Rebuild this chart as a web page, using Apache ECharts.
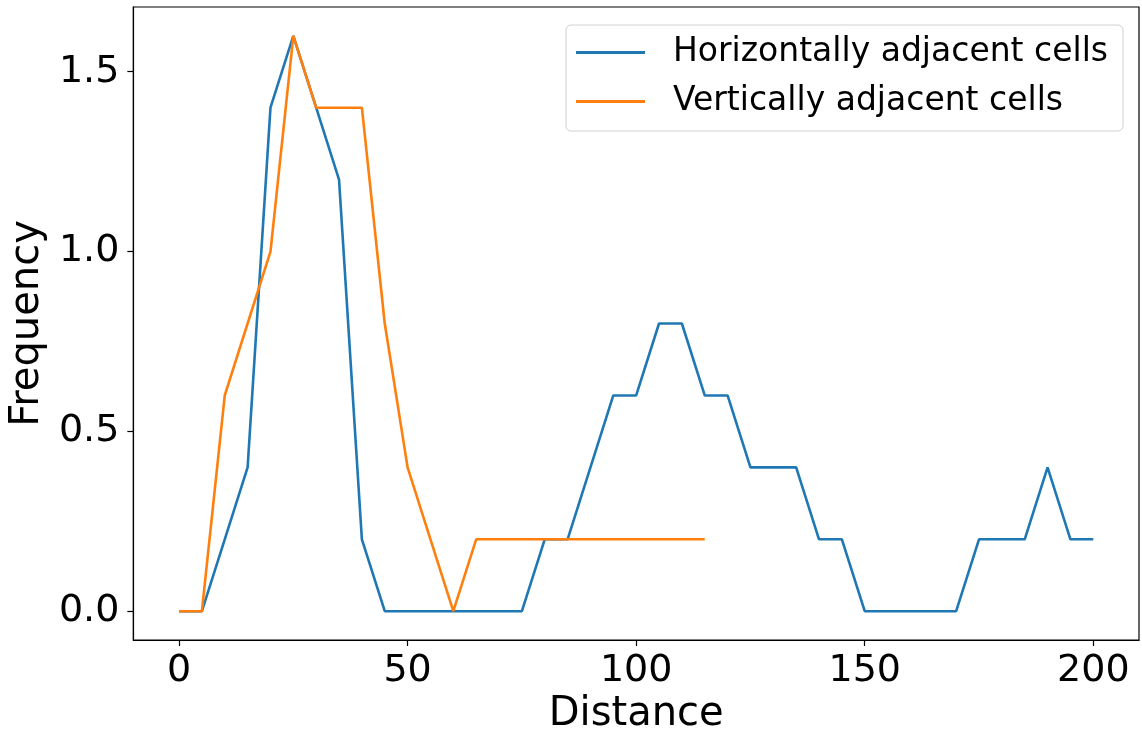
<!DOCTYPE html>
<html>
<head>
<meta charset="utf-8">
<script src="https://cdn.jsdelivr.net/npm/echarts@6/dist/echarts.min.js"></script>
<style>html,body{margin:0;padding:0;background:#fff}#c{width:1142px;height:740px}</style>
</head>
<body>
<div id="c"></div>
<script>
const distances = [0,5,10,15,20,25,30,35,40,45,50,55,60,65,70,75,80,85,90,95,100,105,110,115,120,125,130,135,140,145,150,155,160,165,170,175,180,185,190,195,200];
const horizontalFreq = [0,0,0.2,0.4,1.4,1.6,1.4,1.2,0.2,0,0,0,0,0,0,0,0.2,0.2,0.4,0.6,0.6,0.8,0.8,0.6,0.6,0.4,0.4,0.4,0.2,0.2,0,0,0,0,0,0.2,0.2,0.2,0.4,0.2,0.2];
const verticalDist = [0,5,10,15,20,25,30,35,40,45,50,55,60,65,70,75,80,85,90,95,100,105,110,115];
const verticalFreq = [0,0,0.6,0.8,1.0,1.6,1.4,1.4,1.4,0.8,0.4,0.2,0,0.2,0.2,0.2,0.2,0.2,0.2,0.2,0.2,0.2,0.2,0.2];
const xTicks = [0,50,100,150,200];
const yTicks = [0,0.5,1.0,1.5];
const seriesNames = ['Horizontally adjacent cells','Vertically adjacent cells'];

const font = 'DejaVu Sans';
const chart = echarts.init(document.getElementById('c'), null, {renderer:'canvas'});
chart.setOption({
  backgroundColor:'#fff',
  animation:false,
  grid:{left:132, right:3, top:7, bottom:96, show:true, borderColor:'#000', borderWidth:1.2, backgroundColor:'transparent'},
  legend:{
    orient:'vertical', right:19, top:25,
    data:seriesNames,
    icon:'rect',
    borderColor:'#d0d0d0', borderWidth:1, borderRadius:5,
    padding:[11,15,13,10],
    itemWidth:69, itemHeight:3, itemGap:16,
    textStyle:{fontFamily:font, fontSize:33, color:'#000', padding:[0,0,0,23]}
  },
  xAxis:{
    type:'value', min:-10, max:210,
    name:'Distance', nameLocation:'middle', nameGap:55,
    nameTextStyle:{fontFamily:font, fontSize:40, color:'#000'},
    axisLine:{show:true, onZero:false, lineStyle:{color:'#000', width:1.2}},
    axisTick:{show:true, length:6, lineStyle:{color:'#000', width:1.2}, customValues:xTicks},
    axisLabel:{fontFamily:font, fontSize:38, color:'#000', margin:12, customValues:xTicks, formatter:v=>String(v)},
    splitLine:{show:false}
  },
  yAxis:{
    type:'value', min:-0.08, max:1.68,
    name:'Frequency', nameLocation:'middle', nameGap:82,
    nameTextStyle:{fontFamily:font, fontSize:40, color:'#000'},
    axisLine:{show:true, onZero:false, lineStyle:{color:'#000', width:1.2}},
    axisTick:{show:true, length:6, lineStyle:{color:'#000', width:1.2}, customValues:yTicks},
    axisLabel:{fontFamily:font, fontSize:38, color:'#000', margin:14, customValues:yTicks, formatter:v=>v.toFixed(1)},
    splitLine:{show:false}
  },
  series:[
    {name:seriesNames[0], type:'line', symbol:'none', data:distances.map((d,i)=>[d,horizontalFreq[i]]),
     lineStyle:{color:'#1f77b4', width:2.6}, itemStyle:{color:'#1f77b4'}, z:2},
    {name:seriesNames[1], type:'line', symbol:'none', data:verticalDist.map((d,i)=>[d,verticalFreq[i]]),
     lineStyle:{color:'#ff7f0e', width:2.6}, itemStyle:{color:'#ff7f0e'}, z:3}
  ]
});
</script>
</body>
</html>
